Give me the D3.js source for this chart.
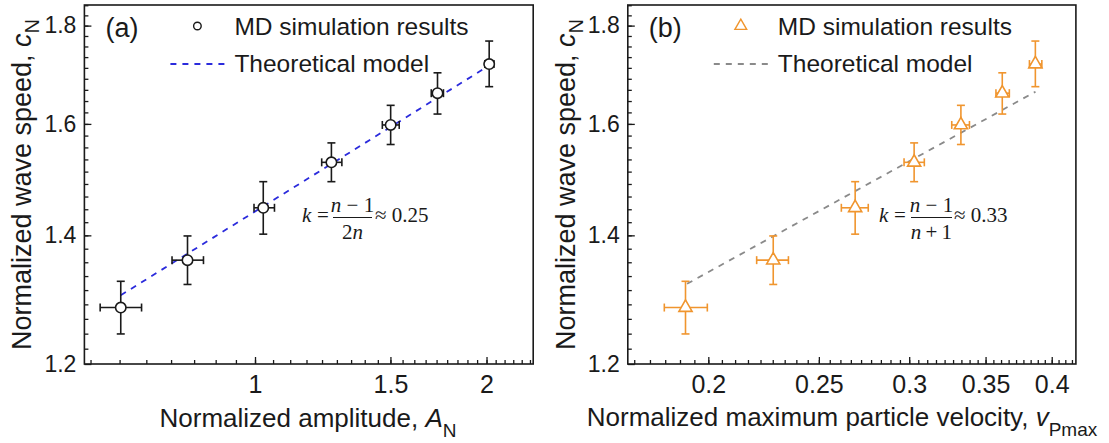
<!DOCTYPE html>
<html>
<head>
<meta charset="utf-8">
<script src="https://cdn.jsdelivr.net/npm/d3@7"></script>
<style>
  body { margin: 0; background: #fff; }
  svg { display: block; font-family: "Liberation Sans", Arial, sans-serif; }
  text { fill: #1a1a1a; }
  .eq text { font-family: "Liberation Serif", "Times New Roman", serif; }
</style>
</head>
<body>
<script>
// normalized wave speed c_N (same MD results in both panels), with error bar ends
const waveSpeed   = [1.284, 1.359, 1.447, 1.528, 1.598, 1.660, 1.719]
const waveSpeedLo = [1.244, 1.320, 1.402, 1.493, 1.561, 1.619, 1.673]
const waveSpeedHi = [1.325, 1.399, 1.493, 1.564, 1.636, 1.701, 1.767]

// panel (a): normalized amplitude A_N
const amp   = [0.669, 0.817, 1.025, 1.257, 1.501, 1.727, 2.016]
const ampLo = [0.629, 0.780, 0.997, 1.221, 1.464, 1.695, 1.990]
const ampHi = [0.712, 0.857, 1.060, 1.297, 1.540, 1.758, 2.045]
const ampModelX = [0.669, 2.016]
const ampModelY = [1.303, 1.716]

// panel (b): normalized maximum particle velocity v_Pmax
const vel   = [0.191, 0.228, 0.269, 0.303, 0.333, 0.362, 0.387]
const velLo = [0.183, 0.2205, 0.2616, 0.2969, 0.3269, 0.3574, 0.3824]
const velHi = [0.1996, 0.2351, 0.2762, 0.3093, 0.3388, 0.3672, 0.3921]
const velModelX = [0.1916, 0.3871]
const velModelY = [1.321, 1.663]

// tick labels
const yTicks   = [1.2, 1.4, 1.6, 1.8]
const ampTicks = [1, 1.5, 2]
const velTicks = [0.2, 0.25, 0.3, 0.35, 0.4]

const width = 1109, height = 443
const plotTop = 5, plotBottom = 364

const svg = d3.select("body")
    .append("svg")
        .attr("width", width)
        .attr("height", height)

// minor ticks: 8 between each pair of majors
function minors(base, step, lo, hi) {
    return d3.range(-40, 60).map(i => base + i * step).filter(v => v > lo + 1e-9 && v < hi - 1e-9)
}

function drawPanel(cfg) {
    const g = svg.append("g")

    const x = d3.scaleLog().domain(cfg.xDomain).range([cfg.left, cfg.right])
    const y = d3.scaleLog().domain([1.2, 1.845]).range([plotBottom, plotTop])

    // y axis
    const yAxis = g.append("g")
        .attr("transform", "translate(" + cfg.left + ",0)")
        .call(d3.axisLeft(y).tickValues(yTicks).tickFormat(d3.format(".1f"))
            .tickSizeInner(-7).tickSizeOuter(0).tickPadding(8))
    yAxis.attr("font-size", 23).attr("font-family", null)
    g.append("g")
        .attr("transform", "translate(" + cfg.left + ",0)")
        .call(d3.axisLeft(y).tickValues(minors(1.2, 0.2 / 9, 1.2, 1.845)).tickFormat("").tickSize(-4))

    // x axis
    const xAxis = g.append("g")
        .attr("transform", "translate(0," + plotBottom + ")")
        .call(d3.axisBottom(x).tickValues(cfg.xTicks).tickFormat(d => String(d))
            .tickSizeInner(-7).tickSizeOuter(0).tickPadding(11))
    xAxis.attr("font-size", 25).attr("font-family", null)
    g.append("g")
        .attr("transform", "translate(0," + plotBottom + ")")
        .call(d3.axisBottom(x).tickValues(minors(cfg.xTicks[0], cfg.xStep / 9, cfg.xDomain[0], cfg.xDomain[1])).tickFormat("").tickSize(-4))

    g.selectAll(".domain").remove()
    g.selectAll(".tick line").attr("stroke", "#1a1a1a").attr("stroke-width", 1.3)
    g.selectAll(".tick text").attr("fill", "#1a1a1a")

    // frame
    g.append("rect")
        .attr("x", cfg.left)
        .attr("y", plotTop)
        .attr("width", cfg.right - cfg.left)
        .attr("height", plotBottom - plotTop)
        .attr("fill", "none")
        .attr("stroke", "#1a1a1a")
        .attr("stroke-width", 1.6)

    // theoretical model
    const line = d3.line().x(d => x(d[0])).y(d => y(d[1]))
    g.append("path")
        .attr("d", line(cfg.modelX.map((v, i) => [v, cfg.modelY[i]])))
        .attr("fill", "none")
        .attr("stroke", cfg.lineColor)
        .attr("stroke-width", 1.8)
        .attr("stroke-dasharray", "6,6")

    // error bars
    const pts = cfg.xs.map((v, i) => ({
        x: v, xLo: cfg.xLo[i], xHi: cfg.xHi[i],
        y: waveSpeed[i], yLo: waveSpeedLo[i], yHi: waveSpeedHi[i]
    }))
    const bars = g.selectAll(".err")
        .data(pts)
        .enter()
        .append("g")
            .attr("class", "err")
            .attr("stroke", cfg.markColor)
            .attr("stroke-width", 1.6)
    const cap = 4
    bars.append("line")
        .attr("x1", d => x(d.x)).attr("x2", d => x(d.x))
        .attr("y1", d => y(d.yLo)).attr("y2", d => y(d.yHi))
    bars.append("line")
        .attr("x1", d => x(d.x) - cap).attr("x2", d => x(d.x) + cap)
        .attr("y1", d => y(d.yLo)).attr("y2", d => y(d.yLo))
    bars.append("line")
        .attr("x1", d => x(d.x) - cap).attr("x2", d => x(d.x) + cap)
        .attr("y1", d => y(d.yHi)).attr("y2", d => y(d.yHi))
    bars.append("line")
        .attr("x1", d => x(d.xLo)).attr("x2", d => x(d.xHi))
        .attr("y1", d => y(d.y)).attr("y2", d => y(d.y))
    bars.append("line")
        .attr("x1", d => x(d.xLo)).attr("x2", d => x(d.xLo))
        .attr("y1", d => y(d.y) - cap).attr("y2", d => y(d.y) + cap)
    bars.append("line")
        .attr("x1", d => x(d.xHi)).attr("x2", d => x(d.xHi))
        .attr("y1", d => y(d.y) - cap).attr("y2", d => y(d.y) + cap)

    // markers
    g.selectAll(".mark")
        .data(pts)
        .enter()
        .append("path")
            .attr("class", "mark")
            .attr("transform", d => "translate(" + x(d.x) + "," + y(d.y) + ")")
            .attr("d", d3.symbol().type(cfg.symbol).size(cfg.symbolSize)())
            .attr("fill", "#fff")
            .attr("stroke", cfg.markColor)
            .attr("stroke-width", 1.6)

    // panel letter
    g.append("text")
        .attr("x", cfg.left + 21)
        .attr("y", 36.5)
        .attr("font-size", 27)
        .text(cfg.letter)

    // legend
    g.append("path")
        .attr("transform", "translate(" + (cfg.left + 113) + ",26)")
        .attr("d", d3.symbol().type(cfg.symbol).size(cfg.legendSize)())
        .attr("fill", "#fff")
        .attr("stroke", cfg.markColor)
        .attr("stroke-width", 1.4)
    g.append("text")
        .attr("x", cfg.left + 150)
        .attr("y", 34.5)
        .attr("font-size", 24.5)
        .text("MD simulation results")
    g.append("line")
        .attr("x1", cfg.left + 86).attr("x2", cfg.left + 143)
        .attr("y1", 64).attr("y2", 64)
        .attr("stroke", cfg.lineColor)
        .attr("stroke-width", 1.8)
        .attr("stroke-dasharray", "6,6")
    g.append("text")
        .attr("x", cfg.left + 150)
        .attr("y", 71.5)
        .attr("font-size", 24.5)
        .text("Theoretical model")

    // y title
    const yt = g.append("text")
        .attr("transform", "translate(" + cfg.yTitleX + "," + ((plotTop + plotBottom) / 2) + ") rotate(-90)")
        .attr("text-anchor", "middle")
        .attr("font-size", 27)
    yt.append("tspan").text("Normalized wave speed, ")
    yt.append("tspan").attr("font-style", "italic").text("c")
    yt.append("tspan").attr("font-size", 20).attr("dy", 8).text("N")

    // x title
    const xt = g.append("text")
        .attr("x", cfg.xTitleX)
        .attr("y", cfg.xTitleY)
        .attr("text-anchor", "middle")
        .attr("font-size", 26)
    xt.append("tspan").text(cfg.xTitle)
    xt.append("tspan").attr("font-style", "italic").text(cfg.xVar)
    xt.append("tspan").attr("font-size", 19).attr("dy", 10).text(cfg.xSub)

    // equation
    const eq = g.append("g").attr("class", "eq").attr("font-size", 21)
    const e = cfg.eq
    eq.append("text").attr("x", e.k).attr("y", 222).attr("font-style", "italic").text("k")
    eq.append("text").attr("x", e.eq).attr("y", 222).text("=")
    eq.append("line")
        .attr("x1", e.fx1).attr("x2", e.fx2)
        .attr("y1", 217.5).attr("y2", 217.5)
        .attr("stroke", "#1a1a1a").attr("stroke-width", 1)
    const num = eq.append("text").attr("x", (e.fx1 + e.fx2) / 2).attr("y", 211.5)
        .attr("text-anchor", "middle")
    num.append("tspan").attr("font-style", "italic").text("n")
    num.append("tspan").text(" \u2212 1")
    const den = eq.append("text").attr("x", (e.fx1 + e.fx2) / 2).attr("y", 239)
        .attr("text-anchor", "middle")
    e.den.forEach(p => den.append("tspan").attr("font-style", p[1] ? "italic" : null).text(p[0]))
    eq.append("text").attr("x", e.ap).attr("y", 222).text("\u2248 " + e.val)
}

drawPanel({
    letter: "(a)",
    left: 84.4, right: 533.2,
    xDomain: [0.6, 2.3], xTicks: ampTicks, xStep: 0.5,
    xs: amp, xLo: ampLo, xHi: ampHi,
    modelX: ampModelX, modelY: ampModelY,
    markColor: "#1a1a1a", lineColor: "#2b2bdc",
    symbol: d3.symbolCircle, symbolSize: 85, legendSize: 45,
    yTitleX: 31,
    xTitle: "Normalized amplitude, ", xVar: "A", xSub: "N",
    xTitleX: 308, xTitleY: 427,
    eq: { k: 302, eq: 317, fx1: 333, fx2: 372, den: [["2", false], ["n", true]], ap: 375, val: "0.25" }
})

drawPanel({
    letter: "(b)",
    left: 627.8, right: 1075.9,
    xDomain: [0.17, 0.42], xTicks: velTicks, xStep: 0.05,
    xs: vel, xLo: velLo, xHi: velHi,
    modelX: velModelX, modelY: velModelY,
    markColor: "#f0952e", lineColor: "#8a8a8a",
    symbol: d3.symbolTriangle, symbolSize: 75, legendSize: 60,
    yTitleX: 575,
    xTitle: "Normalized maximum particle velocity, ", xVar: "v", xSub: "Pmax",
    xTitleX: 842, xTitleY: 426,
    eq: { k: 879, eq: 894, fx1: 911, fx2: 952, den: [["n", true], ["\u2009+\u20091", false]], ap: 954, val: "0.33" }
})
</script>
</body>
</html>
